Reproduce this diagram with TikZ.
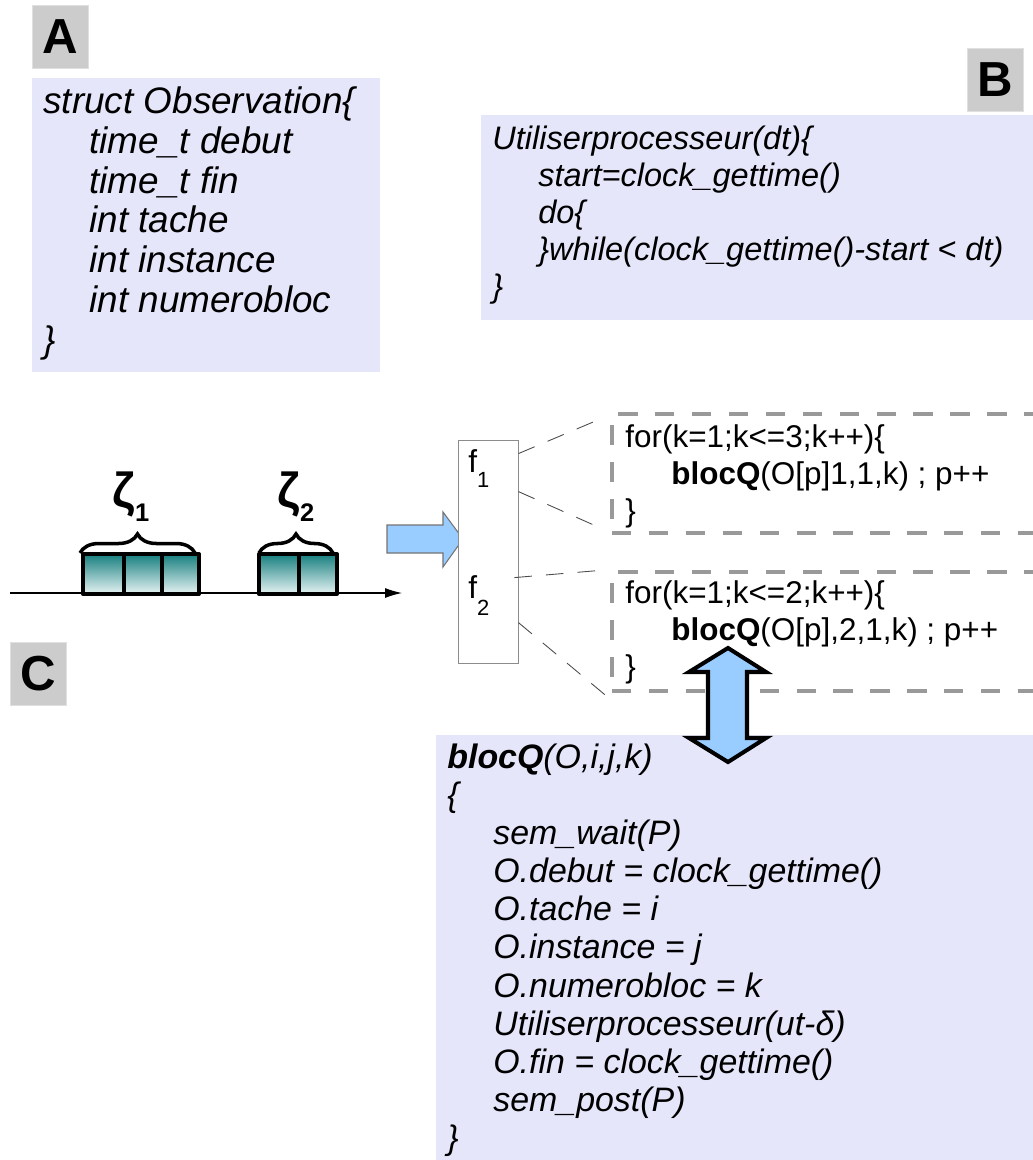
\documentclass[tikz,border=0pt]{standalone}
\usepackage{fontspec}
\setmainfont{Liberation Sans}
\usetikzlibrary{positioning,calc,arrows.meta,decorations.pathreplacing}
\definecolor{panel}{RGB}{230,230,250}
\definecolor{tag}{RGB}{204,204,204}
\definecolor{sky}{RGB}{153,204,255}
\definecolor{tealtop}{RGB}{22,126,126}
\definecolor{tealbot}{RGB}{232,244,244}
\newcommand\ind{\hspace*{0.92cm}}
\newcommand\topstrut{\rule{0pt}{0.8cm}}

\begin{document}
\begin{tikzpicture}[x=0.02cm, y=-0.02cm, >=Latex,
  tagbox/.style={rectangle, fill=tag, draw=black!12, line width=0.4pt, minimum width=1.12cm, minimum height=1.26cm, inner sep=0pt, font=\fontsize{28}{30}\selectfont\bfseries},
  code/.style={anchor=north west, inner sep=0pt, align=left},
  loopbox/.style={rectangle, draw=black!40, line width=2.3pt, dash pattern=on 11pt off 10pt, minimum width=8.66cm, minimum height=2.38cm},
  brick/.style={draw, line width=2.3pt, line join=round, top color=tealtop, bottom color=tealbot},
  curly/.style={line width=2pt, decorate, decoration={brace, amplitude=0.38cm}},
  zeta/.style={anchor=base west, inner sep=0pt, font=\fontsize{28}{30}\selectfont\bfseries},
  fat/.style={fill=sky, line join=miter}]
\clip (0,0) rectangle (1033,1160);

% lavender panels
\fill[panel] (32,78) rectangle (380,372);
\fill[panel] (481,115) rectangle (1040,320);
\fill[panel] (436,735) rectangle (1040,1165);

% tags
\node[tagbox] (tagA) at (60,37) {A};
\node[tagbox] (tagB) at (995,80) {B};
\node[tagbox] (tagC) at (38,674) {C};

% panel A
\node[code, font=\fontsize{21}{22.7}\selectfont\itshape] (obs) at (43,73) {\topstrut struct Observation\{\\
\ind time\_t debut\\
\ind time\_t fin\\
\ind int tache\\
\ind int instance\\
\ind int numerobloc\\
\}};

% panel B
\node[code, font=\fontsize{18.5}{21.1}\selectfont\itshape] (busy) at (492,109) {\topstrut Utiliserprocesseur(dt)\{\\
\ind start=clock\_gettime()\\
\ind do\{\\
\ind \}while(clock\_gettime()-start < dt)\\
\}};

% time line with the two groups
\coordinate (t0) at (10,593);
\coordinate (t1) at (402,593);
\draw[line width=0.6pt, -{Latex[length=0.34cm, width=0.2cm]}] (t0) -- (t1);
\foreach \a/\b in {83/124,124/162,162/199,259/299,299/337}
  \draw[brick] (\a,554) rectangle (\b,594);
\draw[curly] (80,553) -- (195,553);
\draw[curly] (259,553) -- (333,553);
\node[zeta] (z1) at (112,507) {ζ\raisebox{-8.5pt}{\fontsize{14.5}{15}\selectfont 1}};
\node[zeta] (z2) at (277,507) {ζ\raisebox{-8.5pt}{\fontsize{14.5}{15}\selectfont 2}};

% blue arrow into f
\draw[fat, draw=black!55, line width=0.6pt] (387,525) -- (443,525) -- (443,512) -- (463,539) -- (443,567) -- (443,553) -- (387,553) -- cycle;

% f box
\node[rectangle, draw=black!45, fill=white, line width=0.5pt, minimum width=1.2cm, minimum height=4.46cm, inner sep=0pt] (fbox) at (488,551.5) {};
\node[anchor=base west, inner sep=0pt, font=\fontsize{18}{19}\selectfont] (f1) at (468,472) {f\raisebox{-9pt}{\fontsize{12.5}{13}\selectfont 1}};
\node[anchor=base west, inner sep=0pt, font=\fontsize{18}{19}\selectfont] (f2) at (468,598) {f\raisebox{-10pt}{\fontsize{12.5}{13}\selectfont 2}};

% loop boxes
\node[loopbox] (loopone) at (828.5,473.5) {};
\node[loopbox] (looptwo) at (828.5,631.5) {};
\node[code, font=\fontsize{17.9}{21}\selectfont] (forone) at (625,407) {\topstrut for(k=1;k<=3;k++)\{\\
\ind\textbf{blocQ}(O[p]1,1,k) ; p++\\
\}};
\node[code, font=\fontsize{17.9}{21}\selectfont] (fortwo) at (625,563) {\topstrut for(k=1;k<=2;k++)\{\\
\ind\textbf{blocQ}(O[p],2,1,k) ; p++\\
\}};
\draw[black!70, line width=0.5pt, dash pattern=on 10pt off 8pt] ($(fbox.north east)+(0,14)$) -- ($(loopone.north west)+(-5,5)$);
\draw[black!70, line width=0.5pt, dash pattern=on 10pt off 8pt] ($(fbox.north east)+(0,52)$) -- ($(loopone.south west)+(-5,-5)$);
\draw[black!70, line width=0.5pt, dash pattern=on 10pt off 8pt] ($(fbox.north east)+(-4,138)$) -- ($(looptwo.north west)+(-5,0)$);
\draw[black!70, line width=0.5pt, dash pattern=on 10pt off 8pt] ($(fbox.north east)+(0,183)$) -- ($(looptwo.south west)+(0,6)$);

% panel C
\node[code, font=\fontsize{19.3}{21.7}\selectfont\itshape] (bloc) at (447,728) {\topstrut\textbf{blocQ}(O,i,j,k)\\
\{\\
\ind sem\_wait(P)\\
\ind O.debut = clock\_gettime()\\
\ind O.tache = i\\
\ind O.instance = j\\
\ind O.numerobloc = k\\
\ind Utiliserprocesseur(ut-δ)\\
\ind O.fin = clock\_gettime()\\
\ind sem\_post(P)\\
\}};

% double arrow
\draw[fat, draw=black, line width=2.3pt] (728,648) -- (766,672) -- (747,672) -- (747,738) -- (766,738) -- (728,762) -- (689,738) -- (708,738) -- (708,672) -- (689,672) -- cycle;
\end{tikzpicture}
\end{document}
